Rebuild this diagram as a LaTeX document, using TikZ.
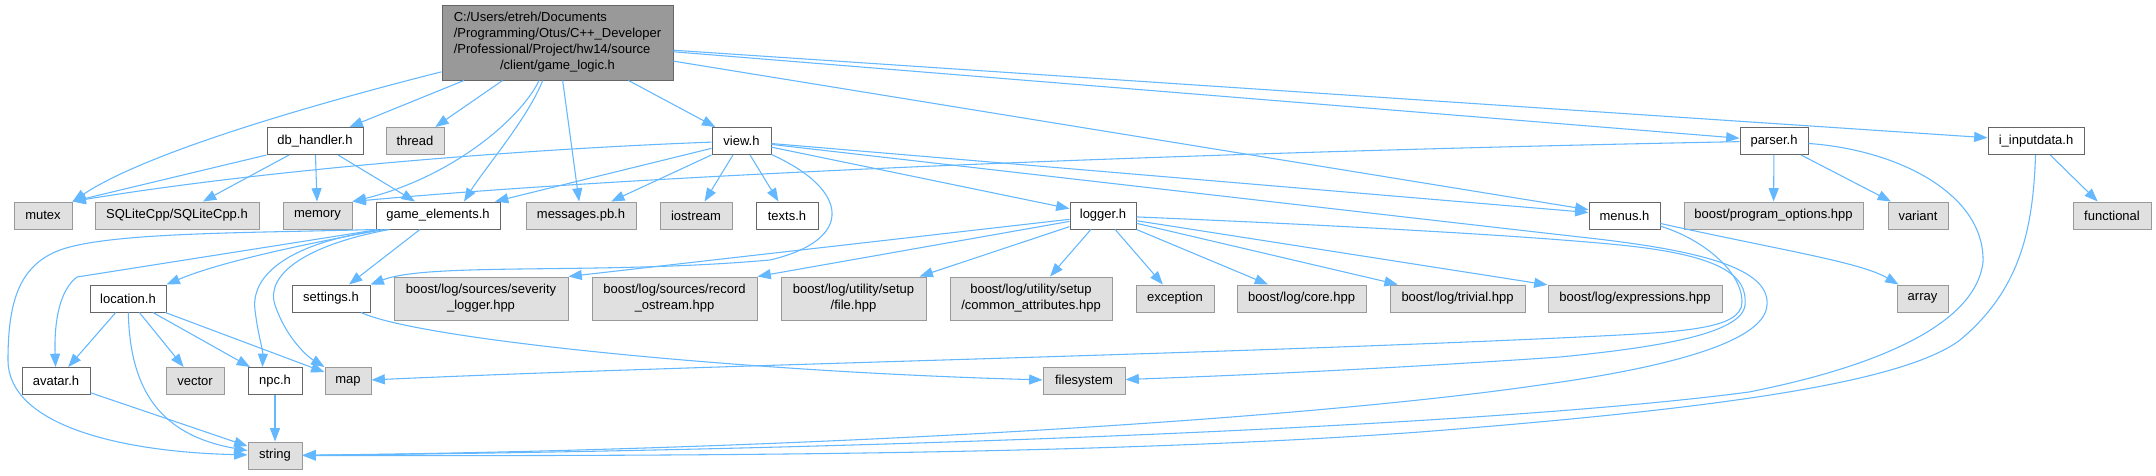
\documentclass[tikz,border=0pt]{standalone}
\usepackage{fontspec}
\setmainfont{Liberation Sans}
\usetikzlibrary{arrows.meta,calc}
\definecolor{edgec}{HTML}{63B8FF}
\definecolor{extfill}{HTML}{E0E0E0}
\definecolor{extdraw}{HTML}{999999}
\definecolor{docdraw}{HTML}{666666}
\definecolor{rootfill}{HTML}{999999}
\begin{document}
\begin{tikzpicture}[x=0.75pt,y=-0.75pt,
  nbase/.style={rectangle, inner sep=0pt, line width=0.75pt, font=\fontsize{9.75}{12}\selectfont, minimum height=20.25pt, align=center},
  docn/.style={nbase, draw=docdraw, fill=white},
  extn/.style={nbase, draw=extdraw, fill=extfill},
  rootn/.style={nbase, draw=docdraw, fill=rootfill},
  wd/.style={minimum width=#1*0.75pt},
  tall/.style={minimum height=32.25pt},
  edge/.style={draw=edgec, line width=0.8pt, -{Triangle[length=10pt,width=7.5pt]}},
]
\fill[white] (0,0) rectangle (2156,475);
\useasboundingbox (0,0) rectangle (2156,475);

% root
\node[rootn, wd=231, minimum height=56.25pt] (root) at (557.5,42.5)
 {\begin{tabular}{@{}l@{}}C:/Users/etreh/Documents\\/Programming/Otus/C++\_Developer\\/Professional/Project/hw14/source\\\multicolumn{1}{@{}c@{}}{/client/game\_logic.h}\end{tabular}};

% row 1
\node[docn, wd=96] (db) at (315,141) {db\_handler.h};
\node[extn, wd=58] (thread) at (415,141) {thread};
\node[docn, wd=59] (view) at (741.5,141) {view.h};
\node[docn, wd=68] (parser) at (1774,141) {parser.h};
\node[docn, wd=96] (inp) at (2036,141) {i\_inputdata.h};

% row 2
\node[extn, wd=58] (mutex) at (43,215.5) {mutex};
\node[extn, wd=164] (sqlite) at (177,215.5) {SQLiteCpp/SQLiteCpp.h};
\node[extn, wd=69] (memory) at (317.5,215.5) {memory};
\node[docn, wd=124] (game) at (438,215.5) {game\_elements.h};
\node[extn, wd=110] (msg) at (581,215.5) {messages.pb.h};
\node[extn, wd=72] (iostream) at (696,215.5) {iostream};
\node[docn, wd=62] (texts) at (787,215.5) {texts.h};
\node[docn, wd=66] (logger) at (1103,215.5) {logger.h};
\node[docn, wd=71] (menus) at (1624.5,215.5) {menus.h};
\node[extn, wd=179] (popt) at (1773.5,215.5) {boost/program\_options.hpp};
\node[extn, wd=60] (variant) at (1918,215.5) {variant};
\node[extn, wd=78] (functional) at (2112,215.5) {functional};

% row 3
\node[docn, wd=76] (location) at (128,298.5) {location.h};
\node[docn, wd=78] (settings) at (331,298.5) {settings.h};
\node[extn, wd=174, tall] (sev) at (481,298.5) {boost/log/sources/severity\\\_logger.hpp};
\node[extn, wd=165, tall] (rec) at (674.5,298.5) {boost/log/sources/record\\\_ostream.hpp};
\node[extn, wd=145, tall] (file) at (853.5,298.5) {boost/log/utility/setup\\/file.hpp};
\node[extn, wd=162, tall] (common) at (1031,298.5) {boost/log/utility/setup\\/common\_attributes.hpp};
\node[extn, wd=78] (exception) at (1175,298.5) {exception};
\node[extn, wd=129] (core) at (1301.5,298.5) {boost/log/core.hpp};
\node[extn, wd=135] (trivial) at (1457.5,298.5) {boost/log/trivial.hpp};
\node[extn, wd=174] (expr) at (1635,298.5) {boost/log/expressions.hpp};
\node[extn, wd=51] (array) at (1922.5,298.5) {array};

% row 4
\node[docn, wd=68] (avatar) at (56,381) {avatar.h};
\node[extn, wd=58] (vector) at (195,381) {vector};
\node[docn, wd=54] (npc) at (275,381) {npc.h};
\node[extn, wd=46] (map) at (348,381) {map};
\node[extn, wd=82] (filesystem) at (1084,381) {filesystem};

% row 5
\node[extn, wd=54] (string) at (275,455.5) {string};

% edges from root
\draw[edge] (root) .. controls (330,100) and (150,150) .. (mutex.north east);
\draw[edge] (root) -- (db);
\draw[edge] (root) -- (thread);
\draw[edge] (root) .. controls (520,120) and (450,178) .. (memory.north east);
\draw[edge] (root) .. controls (528,118) and (485,168) .. ($(game.north)+(26,0)$);
\draw[edge] (root) -- (msg);
\draw[edge] (root) -- (view);
\draw[edge] (root) -- (parser);
\draw[edge] (root) -- (inp);
\draw[edge] (root) -- (menus);

% db_handler
\draw[edge] (db.south west) -- (mutex.north east);
\draw[edge] (db) -- (sqlite);
\draw[edge] (db) -- (memory);
\draw[edge] (db) -- (game);

% view
\draw[edge] (view) .. controls (500,150) and (250,172) .. (mutex.north east);
\draw[edge] (view) -- (game);
\draw[edge] (view) -- (msg);
\draw[edge] (view) -- (iostream);
\draw[edge] (view) -- (texts);
\draw[edge] (view) .. controls (850,190) and (855,240) .. (770,260) .. controls (600,275) and (430,262) .. (settings.north east);
\draw[edge] (view) -- (logger);
\draw[edge] (view) -- (menus);
\draw[edge] (view) .. controls (1100,182) and (1500,228) .. (1580,237) .. controls (1700,250) and (1770,268) .. (1767,305) .. controls (1765,345) and (1650,370) .. (1540,385) .. controls (1300,420) and (800,450) .. (string);

% logger
\draw[edge] (logger) -- (sev.north east);
\draw[edge] (logger) -- (rec.north east);
\draw[edge] (logger) -- (file);
\draw[edge] (logger) -- (common);
\draw[edge] (logger) -- (exception);
\draw[edge] (logger) -- (core);
\draw[edge] (logger) -- (trivial);
\draw[edge] (logger) -- (expr);
\draw[edge] (logger) .. controls (1400,228) and (1550,238) .. (1620,245) .. controls (1720,255) and (1748,275) .. (1745,305) .. controls (1742,335) and (1650,348) .. (1560,357) .. controls (1400,368) and (1250,375) .. (filesystem);

% menus
\draw[edge] (menus) .. controls (1700,238) and (1742,270) .. (1742,302) .. controls (1742,330) and (1680,332) .. (1580,337) .. controls (1200,355) and (700,365) .. (map);
\draw[edge] (menus) .. controls (1780,250) and (1860,262) .. (array);

% parser
\draw[edge] (parser) .. controls (1300,150) and (700,170) .. (memory.north east);
\draw[edge] (parser) -- (popt);
\draw[edge] (parser) -- (variant);
\draw[edge] (parser) .. controls (1900,150) and (1985,195) .. (1983,262) .. controls (1975,330) and (1860,370) .. (1749,392) .. controls (1500,425) and (900,450) .. (string);

% i_inputdata
\draw[edge] (inp) -- (functional);
\draw[edge] (inp) .. controls (2033,230) and (2020,290) .. (1960,340) .. controls (1900,385) and (1700,410) .. (1420,432) .. controls (1100,455) and (700,456) .. (string);

% settings
\draw[edge] (settings) .. controls (420,340) and (750,372) .. (filesystem);

% game_elements
\draw[edge] (game.south west) .. controls (250,233) and (110,232) .. (60,250) .. controls (20,265) and (8,300) .. (8,360) .. controls (8,425) and (120,452) .. (string);
\draw[edge] ($(game.south west)+(3,0)$) -- (77,277) .. controls (60,290) and (54,320) .. (avatar);
\draw[edge] ($(game.south west)+(7,0)$) .. controls (300,245) and (220,262) .. (location.north east);
\draw[edge] ($(game.south west)+(11,0)$) .. controls (300,240) and (250,270) .. (255,310) .. controls (258,335) and (263,350) .. ($(npc.north west)+(15,0)$);
\draw[edge] ($(game.south west)+(14,0)$) .. controls (305,245) and (265,275) .. (275,305) .. controls (285,335) and (305,355) .. (map.north west);
\draw[edge] (game) -- (settings);

% location
\draw[edge] (location) -- (avatar);
\draw[edge] (location) .. controls (130,390) and (160,435) .. (string);
\draw[edge] (location) -- (vector);
\draw[edge] (location) -- (npc);
\draw[edge] (location) -- (map);

% avatar, npc
\draw[edge] (avatar) -- (string);
\draw[edge] (npc) -- (string);
\end{tikzpicture}
\end{document}
